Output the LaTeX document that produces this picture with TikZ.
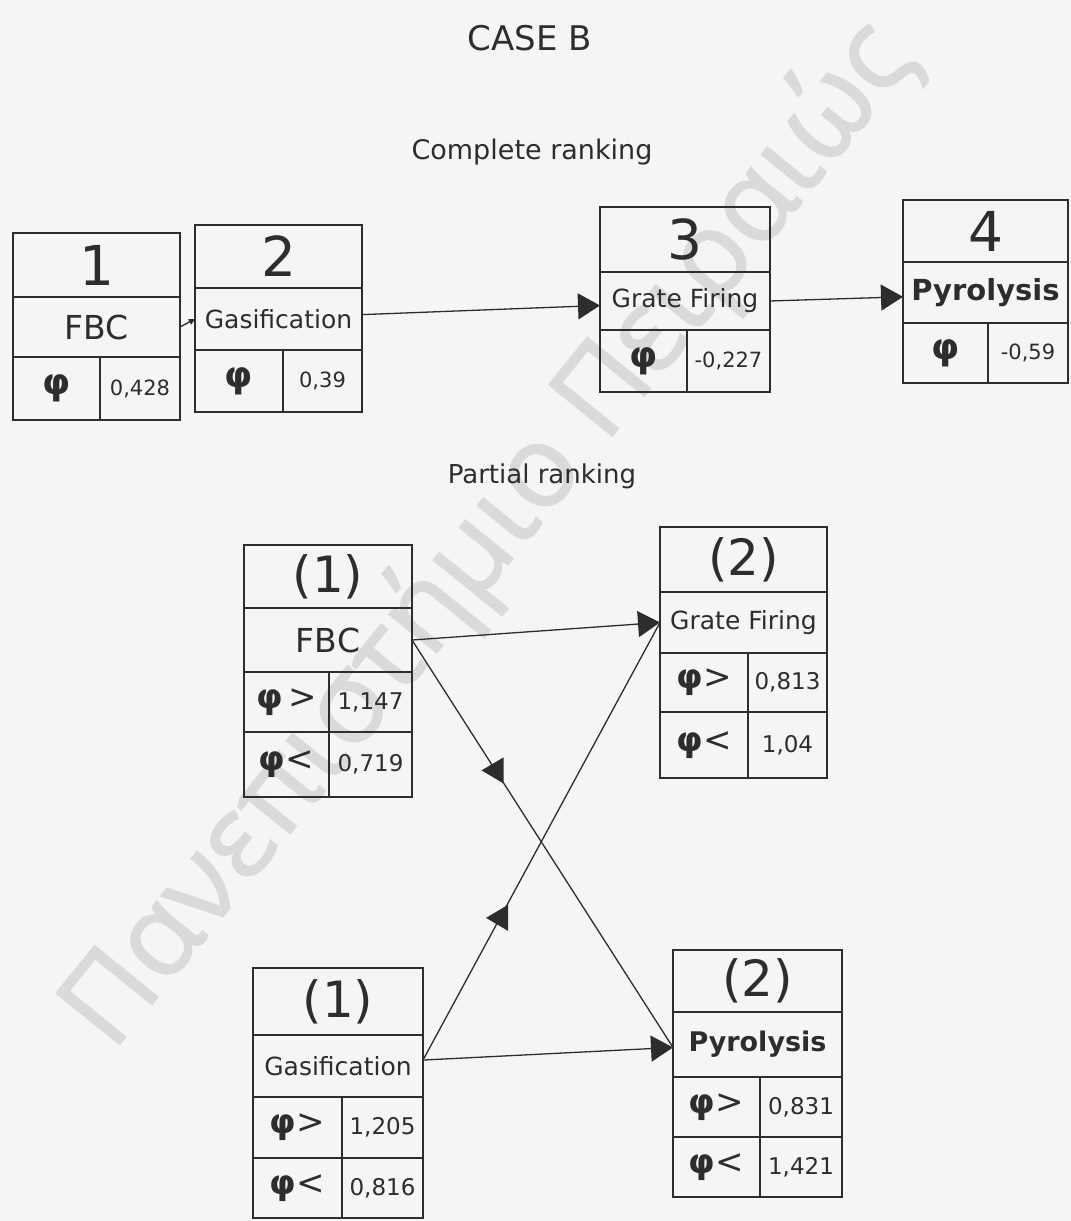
\documentclass[tikz,border=0pt]{standalone}
\usepackage{fontspec}
\setmainfont{DejaVu Sans}
\newfontfamily\wmfont[FakeBold=1.5]{Open Sans}
\usetikzlibrary{arrows.meta}

\definecolor{paper}{RGB}{245,245,243}
\definecolor{ink}{RGB}{45,45,45}
\definecolor{wmark}{RGB}{218,218,218}

\newcommand\fs[1]{\fontsize{#1}{#1}\selectfont}

\tikzset{
  cellbox/.style={draw=ink, line width=1.8pt, inner sep=0pt, outer sep=0pt, rectangle, text=ink},
  link/.style={draw=ink, line width=1.3pt},
  bigtip/.style={-{Triangle[length=22pt,width=26pt]}},
  smalltip/.style={-{Triangle[length=6pt,width=6pt]}},
  heading/.style={text=ink, anchor=base, inner sep=0pt},
}

% one table cell: name, left, top, right, bottom, text
\newcommand\tcell[6]{\node[cellbox, minimum width={#4-#2}, minimum height={#5-#3}] (#1) at ({(#2+#4)/2},{(#3+#5)/2}) {#6};}

\begin{document}
\begin{tikzpicture}[x=1pt,y=-1pt]
\useasboundingbox[fill=paper] (0,0) rectangle (1071,1221);

% watermark
\node[text=wmark, rotate=51, anchor=base, inner sep=0pt] (wm) at (515,556) {\wmfont\fs{114}Πανεπιστήμιο Πειραιώς};

% headings
\node[heading] (title) at (530,50) {\fs{34}CASE B};
\node[heading] (complete) at (532,159) {\fs{27}Complete ranking};
\node[heading] (partial) at (542,483) {\fs{26}Partial ranking};

% complete ranking
\tcell{c1t}{13}{233}{180}{297}{\fs{55}1}
\tcell{c1n}{13}{297}{180}{357}{\fs{33}FBC}
\tcell{c1p}{13}{357}{100}{420}{\fs{36}\bfseries φ}
\tcell{c1v}{100}{357}{180}{420}{\fs{21}0,428}

\tcell{c2t}{195}{225}{362}{288}{\fs{55}2}
\tcell{c2n}{195}{288}{362}{350}{\fs{25}Gasification}
\tcell{c2p}{195}{350}{283}{412}{\fs{36}\bfseries φ}
\tcell{c2v}{283}{350}{362}{412}{\fs{21}0,39}

\tcell{c3t}{600}{207}{770}{272}{\fs{55}3}
\tcell{c3n}{600}{272}{770}{330}{\fs{25}Grate Firing}
\tcell{c3p}{600}{330}{687}{392}{\fs{36}\bfseries φ}
\tcell{c3v}{687}{330}{770}{392}{\fs{21}-0,227}

\tcell{c4t}{903}{200}{1068}{262}{\fs{55}4}
\tcell{c4n}{903}{262}{1068}{323}{\fs{29}\bfseries Pyrolysis}
\tcell{c4p}{903}{323}{988}{383}{\fs{36}\bfseries φ}
\tcell{c4v}{988}{323}{1068}{383}{\fs{21}-0,59}

\draw[link, smalltip] (c1n.east) -- (c2n.west);
\draw[link, bigtip] (c2n.3) -- (c3n.183);
\draw[link, bigtip] (c3n.east) -- (c4n.183);

% partial ranking
\tcell{p1t}{244}{545}{412}{608}{\fs{50}(1)}
\tcell{p1n}{244}{608}{412}{672}{\fs{33}FBC}
\tcell{p1a}{244}{672}{329}{732}{\fs{34}\textbf{φ}\,>}
\tcell{p1b}{329}{672}{412}{732}{\fs{23}1,147}
\tcell{p1c}{244}{732}{329}{797}{\fs{34}\textbf{φ}<}
\tcell{p1d}{329}{732}{412}{797}{\fs{23}0,719}

\tcell{p2t}{660}{527}{827}{592}{\fs{50}(2)}
\tcell{p2n}{660}{592}{827}{653}{\fs{25}Grate Firing}
\tcell{p2a}{660}{653}{748}{712}{\fs{34}\textbf{φ}>}
\tcell{p2b}{748}{653}{827}{712}{\fs{23}0,813}
\tcell{p2c}{660}{712}{748}{778}{\fs{34}\textbf{φ}<}
\tcell{p2d}{748}{712}{827}{778}{\fs{23}1,04}

\tcell{p3t}{253}{968}{423}{1035}{\fs{50}(1)}
\tcell{p3n}{253}{1035}{423}{1097}{\fs{25}Gasification}
\tcell{p3a}{253}{1097}{342}{1158}{\fs{34}\textbf{φ}>}
\tcell{p3b}{342}{1097}{423}{1158}{\fs{23}1,205}
\tcell{p3c}{253}{1158}{342}{1218}{\fs{34}\textbf{φ}<}
\tcell{p3d}{342}{1158}{423}{1218}{\fs{23}0,816}

\tcell{p4t}{673}{950}{842}{1012}{\fs{50}(2)}
\tcell{p4n}{673}{1012}{842}{1077}{\fs{27}\bfseries Pyrolysis}
\tcell{p4a}{673}{1077}{760}{1137}{\fs{34}\textbf{φ}>}
\tcell{p4b}{760}{1077}{842}{1137}{\fs{23}0,831}
\tcell{p4c}{673}{1137}{760}{1197}{\fs{34}\textbf{φ}<}
\tcell{p4d}{760}{1137}{842}{1197}{\fs{23}1,421}

\draw[link, bigtip] (p1n.east) -- (p2n.west);
\draw[link, bigtip] (p3n.4) -- (p4n.182);
\draw[link] (p1n.east) -- coordinate[pos=0.32] (m1) (p4n.182);
\draw[link] (p3n.4) -- coordinate[pos=0.325] (m2) (p2n.west);

% mid-line markers on the crossing connectors
\fill[ink] (m1) ++(-14,0) -- ++(22,-13) -- ++(0,26) -- cycle;
\fill[ink] (m2) ++(-14,0) -- ++(22,-13) -- ++(0,26) -- cycle;
\end{tikzpicture}
\end{document}
